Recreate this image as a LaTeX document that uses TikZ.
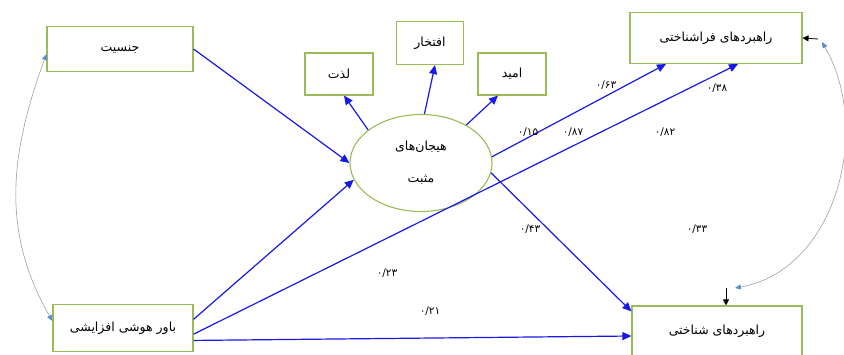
\documentclass[tikz,border=0pt]{standalone}
\usepackage{fontspec}
\newfontfamily\farsi[Script=Arabic]{DejaVu Sans}
\TeXXeTstate=1
\usetikzlibrary{shapes.geometric,arrows.meta}
\definecolor{boxgreen}{RGB}{155,187,89}
\definecolor{pathblue}{RGB}{25,25,230}
\definecolor{corrblue}{RGB}{90,140,210}
\newcommand{\fa}[1]{\beginR #1\endR}

\begin{document}
\begin{tikzpicture}[x=1pt,y=1pt]
        \tikzset{var/.style={draw=boxgreen, line width=1.1pt, fill=white, font=\farsi\fontsize{12.5}{14}\selectfont},
                 effect/.style={pathblue, line width=1.2pt, -{Triangle[length=9pt,width=8pt]}},
                 corr/.style={gray!75, line width=0.6pt, {Triangle[length=6pt,width=5pt,color=corrblue]}-{Triangle[length=6pt,width=5pt,color=corrblue]}},
                 err/.style={black, line width=0.8pt, -{Triangle[length=6pt,width=6pt]}},
                 coef/.style={font=\farsi\fontsize{10.5}{12}\selectfont}}
        \useasboundingbox (0,0) rectangle (844,354);

        % variables
        \node [var, minimum width=146pt, minimum height=45pt] (gen) at (120,305) {\fa{جنسیت}};
        \node [var, minimum width=140pt, minimum height=47pt] (bav) at (123,26) {\fa{باور هوشی افزایشی}};
        \node [var, ellipse, minimum width=142pt, minimum height=97pt, align=center] (hey) at (421,191)
              {\fa{هیجان‌های}\\[18pt]\fa{مثبت}};
        \node [var, minimum width=68pt, minimum height=42pt] (lez) at (339,280) {\fa{لذت}};
        \node [var, minimum width=67pt, minimum height=43pt] (ift) at (430,311) {\fa{افتخار}};
        \node [var, minimum width=68pt, minimum height=42pt] (omid) at (512,280) {\fa{امید}};
        \node [var, minimum width=172pt, minimum height=51pt] (fara) at (716,316) {\fa{راهبردهای فراشناختی}};
        \node [var, minimum width=170pt, minimum height=50pt] (shen) at (717,23) {\fa{راهبردهای شناختی}};
        \coordinate (e1) at (818,315);
        \coordinate (e2) at (726,66);

        % paths
        \draw [effect] (gen.east) -- (hey.west);
        \draw [effect] (bav.7) -- (hey.194);
        \draw [effect] (bav.-5) -- ([xshift=22pt]fara.south);
        \draw [effect] (bav.-10) -- ([yshift=-5pt]shen.west);
        \draw [effect] (hey.148) -- ([xshift=5pt]lez.south);
        \draw [effect] (hey.86) -- ([xshift=5pt]ift.south);
        \draw [effect] (hey.40) -- ([xshift=-14pt]omid.south);
        \draw [effect] (hey.5) -- ([xshift=-50pt]fara.south);
        \draw [effect] (hey.-8) -- ([yshift=-6pt]shen.north west);

        % errors and correlations
        \draw [err] (e1) -- (fara.east);
        \draw [err] (e2) -- (e2 |- shen.north);
        \draw [corr] ([yshift=-5pt]gen.west) to [out=250, in=120] ([yshift=7pt]bav.west);
        \draw [corr] ([shift={(4pt,-3pt)}]e1) to [out=-60, in=10] ([xshift=9pt]e2);

        % coefficients
        \node [coef] (c63) at (606,269) {۰/۶۳};
        \node [coef] (c38) at (717,266) {۰/۳۸};
        \node [coef] (c15) at (528,222) {۰/۱۵};
        \node [coef] (c87) at (573,222) {۰/۸۷};
        \node [coef] (c82) at (665,222) {۰/۸۲};
        \node [coef] (c43) at (530,125) {۰/۴۳};
        \node [coef] (c33) at (697,125) {۰/۳۳};
        \node [coef] (c23) at (387,81) {۰/۲۳};
        \node [coef] (c21) at (430,43) {۰/۲۱};
    \end{tikzpicture}
\end{document}
